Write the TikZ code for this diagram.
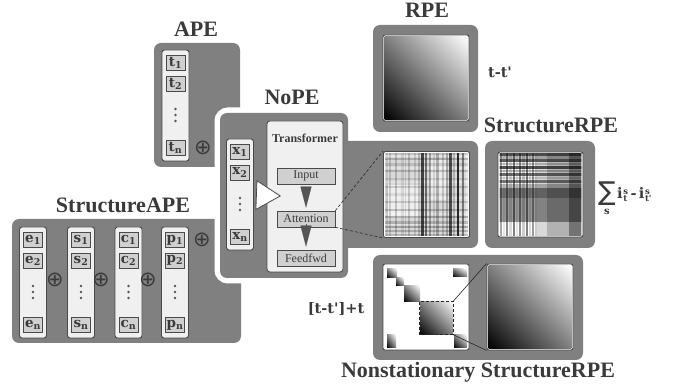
\documentclass[tikz,border=0pt]{standalone}
\usepackage{fontspec}
\setmainfont{Liberation Serif}
\newfontfamily\lblfont{DejaVu Serif}
\newfontfamily\symbfont{DejaVu Sans}
\usetikzlibrary{arrows.meta,calc,shadings,positioning}

\definecolor{panelgray}{HTML}{808080}
\definecolor{edgegray}{HTML}{4A4A4A}
\definecolor{colfill}{HTML}{F0F0F0}
\definecolor{entryfill}{HTML}{D0D0D0}
\definecolor{txtgray}{HTML}{3A3A3A}
\definecolor{arrowgray}{HTML}{555555}

\tikzset{
  panel/.style={fill=panelgray, rounded corners=7pt},
  column/.style={draw=edgegray, fill=colfill, rounded corners=2.5pt, line width=0.9pt, minimum width=27pt, minimum height=111pt, inner sep=0pt},
  entry/.style={draw=edgegray, fill=entryfill, line width=0.8pt, minimum width=19pt, minimum height=15pt, inner sep=0pt, font=\fontsize{13.5}{13.5}\selectfont\lblfont\bfseries, text=txtgray},
  block/.style={draw=edgegray, fill=entryfill, line width=0.6pt, minimum width=58pt, minimum height=16pt, inner sep=0pt, font=\fontsize{12}{12}\selectfont, text=txtgray},
  title/.style={font=\fontsize{22}{24}\selectfont\bfseries, text=txtgray, anchor=base},
  lbl/.style={font=\fontsize{14.5}{16}\selectfont\lblfont\bfseries, text=txtgray},
  map/.style={draw=edgegray, fill=white, line width=0.9pt, rounded corners=2pt, minimum size=86pt, inner sep=0pt},
  oplus/.style={font=\fontsize{21}{21}\selectfont\symbfont, text=txtgray, inner sep=0pt},
  grad/.style={lower left=black, upper right=white, upper left=gray, lower right=gray},
  flowtip/.style={draw=arrowgray, line width=0.1pt, shorten <=3pt, shorten >=3pt, -{Triangle[width=11pt,length=21pt,fill=arrowgray]}},
  bigtip/.style={draw=edgegray, line width=0.8pt, shorten <=3pt, -{Triangle[width=30pt,length=25pt,fill=white]}},
  zoomline/.style={draw=black!85, line width=0.6pt},
}

% token column: name, centre x, top y, letter
\newcommand{\tokcol}[4]{%
  \node[column] (#1) at (#2,#3+55.5) {};
  \node[entry] (#1-1) at (#2,#3+13) {#4\textsubscript{1}};
  \node[entry] (#1-2) at (#2,#3+33.5) {#4\textsubscript{2}};
  \foreach \d in {59,65,71}
    \fill[arrowgray] (#2,#3+\d) circle (1.4pt);
  \node[entry] (#1-n) at (#2,#3+98) {#4\textsubscript{n}};
}
% index with stacked super- and subscript
\newcommand{\idx}[2]{i\kern0.6pt\raisebox{0.8pt}{\fontsize{8.5}{9}\selectfont\begin{tabular}{@{}l@{}}#1\\[-1.5pt]#2\end{tabular}}}

\begin{document}
\begin{tikzpicture}[x=1pt,y=-1pt]
  \useasboundingbox (0,0) rectangle (673,387);

  % APE
  \fill[panel] (154,43) rectangle (240,167);
  \node[title] (ape) at (196,37) {APE};
  \tokcol{t}{175.5}{50}{t}
  \node[oplus] (plus-t) at (203,148) {⊕};

  % StructureAPE
  \fill[panel] (12,219) rectangle (241,343);
  \node[title] (sape) at (123,213) {StructureAPE};
  \tokcol{e}{33}{227}{e}
  \tokcol{s}{81}{227}{s}
  \tokcol{c}{128.5}{227}{c}
  \tokcol{p}{175}{227}{p}
  \node[oplus] (plus-es) at (55,280) {⊕};
  \node[oplus] (plus-sc) at (101,280) {⊕};
  \node[oplus] (plus-cp) at (148,280) {⊕};
  \node[oplus] (plus-p) at (202,240) {⊕};

  % NoPE with its white rim
  \draw[white, line width=11pt, rounded corners=8pt] (220,113) rectangle (348,278);
  \draw[white, line width=11pt, rounded corners=8pt] (300,141) rectangle (478,248);
  \fill[panel] (220,113) rectangle (348,278);
  \fill[panel] (300,141) rectangle (478,248);
  \node[title] (nope) at (292,105) {NoPE};
  \tokcol{x}{240}{139}{x}

  % Transformer
  \node[draw=edgegray, fill=colfill, line width=0.8pt, rounded corners=3pt,
        minimum width=76pt, minimum height=151pt] (trans) at (305,196.5) {};
  \node[font=\fontsize{12}{12}\selectfont\bfseries, text=txtgray] (trans-t) at (305,138) {Transformer};
  \node[block] (input) at (306,176) {Input};
  \node[block] (attn) at (306,219) {Attention};
  \node[block] (ffwd) at (306,258) {Feedfwd};
  \draw[flowtip] (input) -- (attn);
  \draw[flowtip] (attn) -- (ffwd);
  \coordinate (xtip) at (281,196);
  \draw[bigtip] (x) -- (xtip);

  % attention map
  \node[map] (attmap) at (426.5,194.5) {};
  \begin{scope}
    \clip ($(attmap.south west)+(2,-2)$) rectangle ($(attmap.north east)+(-2,2)$);
    \fill[gray!30] (attmap.south west) rectangle (attmap.north east);
    \fill[white, opacity=0.6] (388,185) rectangle (420,218);
    \fill[white, opacity=0.5] (430,160) rectangle (446,200);
    \fill[white, opacity=0.4] (466,150) rectangle (472,240);
    \foreach \y/\h/\o in {153/2/0.1,158/2/0.2,163/3/0.12,170/2/0.18,178/2/0.1,186/2/0.15,193/3/0.08,201/2/0.15,209/2/0.2,216/2/0.25,221/3/0.18,226/2/0.25,230/2/0.2,234/2/0.15}
      \fill[black, opacity=\o] (380,\y) rectangle (472,\y+\h);
    \foreach \y/\h/\o in {155/2/0.35,167/2/0.3,181/2/0.3,197/2/0.25,213/2/0.3,224/1/0.35}
      \fill[white, opacity=\o] (380,\y) rectangle (472,\y+\h);
    \foreach \x/\w/\o in {386/2/0.1,389/2/0.15,395/2/0.18,401/3/0.1,405/1/0.12,408/2/0.18,414/2/0.12,418/2/0.2,421/3/0.7,425/2/0.5,429/2/0.3,433/2/0.12,436/3/0.25,442/2/0.18,446/2/0.25,449/3/0.65,453/2/0.2,457/2/0.8,462/2/0.45}
      \fill[black, opacity=\o] (\x,150) rectangle (\x+\w,240);
  \end{scope}
  \draw[zoomline, densely dashed] (attn.north east) -- (attmap.north west);
  \draw[zoomline, densely dashed] (attn.south east) -- (attmap.south west);

  % RPE
  \fill[panel] (373,25) rectangle (478,132);
  \node[title] (rpe) at (427,18) {RPE};
  \node[map] (rpemap) at (426,78) {};
  \shade[grad] ($(rpemap.south west)+(2,-2)$) rectangle ($(rpemap.north east)+(-2,2)$);
  \node[lbl] (rpe-l) at (500,72) {t-t'};

  % StructureRPE
  \fill[panel] (485,141) rectangle (595,248);
  \node[title] (srpe) at (551,133) {StructureRPE};
  \node[map, minimum size=85pt] (srpemap) at (540.5,194.5) {};
  \begin{scope}
    \clip ($(srpemap.south west)+(2,-2)$) rectangle ($(srpemap.north east)+(-2,2)$);
    \foreach \x/\w/\o in {500/2/0.35,503/2/0.1,506/2/0.45,509/3/0.15,513/2/0.5,516/2/0.1,519/2/0.45,522/3/0.2,526/2/0.5,529/2/0.15,532/2/0.4,535/2/0.2,537/10/0.15,547/22/0.3,569/14/0.55}
      \fill[black, opacity=\o] (\x,150) rectangle (\x+\w,240);
    \foreach \y/\h/\o in {151/5/0.65,156/3/0.25,159/3/0.6,163/2/0.2,166/3/0.65,170/2/0.25,173/3/0.55,177/2/0.15,180/3/0.5,184/4/0.25,188/10/0.55,198/24/0.4}
      \fill[black, opacity=\o] (495,\y) rectangle (590,\y+\h);
  \end{scope}
  \node[font=\fontsize{26}{26}\selectfont\symbfont, text=txtgray, inner sep=0pt] (sigma) at (607,194) {∑};
  \node[font=\fontsize{10}{10}\selectfont\lblfont\bfseries, text=txtgray, inner sep=0pt, below=3pt of sigma] (sigma-s) {s};
  \node[lbl, anchor=west, inner sep=0pt] (srpe-l) at (617,196) {\idx{s}{t}\,-\,\idx{s}{t'}};

  % Nonstationary StructureRPE
  \fill[panel] (373,255) rectangle (583,360);
  \node[title] (nsrpe) at (478,378) {Nonstationary StructureRPE};
  \node[map] (nsmap) at (426,307) {};
  \node[map] (nszoom) at (530,307) {};
  \shade[grad] ($(nszoom.south west)+(2,-2)$) rectangle ($(nszoom.north east)+(-2,2)$);
  \shade[grad] (387,269) rectangle (397,278);
  \shade[grad] (396,278) rectangle (404,286);
  \shade[grad] (404,286) rectangle (420,302);
  \shade[grad] (453,269) rectangle (467,277);
  \shade[grad] (387,335) rectangle (396,348);
  \shade[grad] (454,335) rectangle (467,348);
  \node[minimum size=33pt, inner sep=0pt] (block) at (436.5,318) {};
  \shade[grad] (block.south west) rectangle (block.north east);
  \draw[black!85, densely dashed, line width=0.8pt] (block.south west) rectangle (block.north east);
  \draw[zoomline] (block.north east) -- (nszoom.north west);
  \draw[zoomline] (block.south east) -- (nszoom.south west);
  \node[lbl] (ns-l) at (336,309) {[t-t']+t};
\end{tikzpicture}
\end{document}
